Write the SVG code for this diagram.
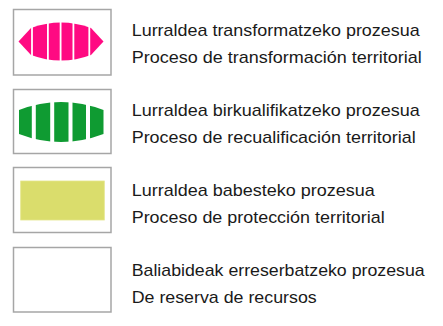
<svg xmlns="http://www.w3.org/2000/svg" width="443" height="326" viewBox="0 0 443 326">
<style>
.box{fill:#fff;stroke:#a6a6a6;stroke-width:1.5}
.t{font-family:"Liberation Sans",Arial,sans-serif;font-size:17px;fill:#1a1a1a}
.gap{stroke:#fff;fill:none}
</style>
<rect width="443" height="326" fill="#fff"/>
<g id="row1">
<rect class="box" x="13.5" y="9.5" width="97.5" height="65.5"/>
<path d="M18.5,41.5 L31,28 Q61,17 91,28 L103.5,41.5 L91,55 Q61,66 31,55 Z" fill="#ff0a82"/>
<g class="gap" stroke-width="1.8">
<line x1="32" y1="15" x2="32" y2="70"/>
<line x1="47.9" y1="15" x2="47.9" y2="70"/>
<line x1="60.6" y1="15" x2="60.6" y2="70"/>
<line x1="73.4" y1="15" x2="73.4" y2="70"/>
<line x1="89.3" y1="15" x2="89.3" y2="70"/>
</g>
<text class="t" x="131.7" y="35.7" textLength="288" lengthAdjust="spacingAndGlyphs">Lurraldea transformatzeko prozesua</text>
<text class="t" x="131.7" y="63" textLength="290" lengthAdjust="spacingAndGlyphs">Proceso de transformación territorial</text>
</g>
<g id="row2">
<rect class="box" x="13.5" y="89.5" width="97.5" height="64"/>
<path d="M19,110 Q61,94 103.5,110 L103.5,134 Q61,150 19,134 Z" fill="#0f9b32"/>
<g class="gap" stroke-width="4">
<line x1="33.8" y1="95" x2="33.8" y2="150"/>
<line x1="52.2" y1="95" x2="52.2" y2="150"/>
<line x1="70.5" y1="95" x2="70.5" y2="150"/>
<line x1="88" y1="95" x2="88" y2="150"/>
</g>
<text class="t" x="131.7" y="115.7" textLength="288" lengthAdjust="spacingAndGlyphs">Lurraldea birkualifikatzeko prozesua</text>
<text class="t" x="131.7" y="143" textLength="284" lengthAdjust="spacingAndGlyphs">Proceso de recualificación territorial</text>
</g>
<g id="row3">
<rect class="box" x="13.5" y="167.5" width="97.5" height="65"/>
<rect x="20.7" y="181" width="83.6" height="39" fill="#dadd6c" stroke="#e4e68a" stroke-width="0.8"/>
<text class="t" x="131.7" y="195.7" textLength="243" lengthAdjust="spacingAndGlyphs">Lurraldea babesteko prozesua</text>
<text class="t" x="131.7" y="223" textLength="253" lengthAdjust="spacingAndGlyphs">Proceso de protección territorial</text>
</g>
<g id="row4">
<rect class="box" x="13.5" y="247.5" width="97.5" height="64.5"/>
<text class="t" x="131.7" y="275.7" textLength="293" lengthAdjust="spacingAndGlyphs">Baliabideak erreserbatzeko prozesua</text>
<text class="t" x="131.7" y="303" textLength="185" lengthAdjust="spacingAndGlyphs">De reserva de recursos</text>
</g>
<g id="connectors"></g>
</svg>
